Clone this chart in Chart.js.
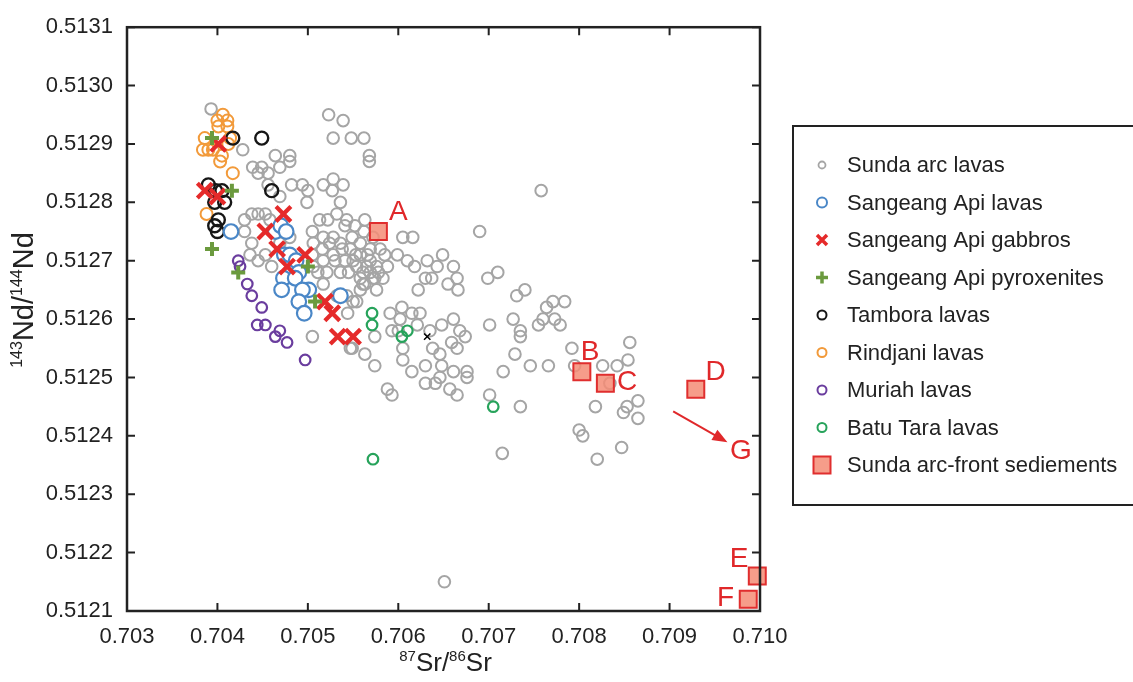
<!DOCTYPE html>
<html lang="en">
<head>
<meta charset="UTF-8">
<title>Sr-Nd isotopes</title>
<style>
  body { margin: 0; background: #fff; overflow: hidden; }
  .wrap { position: relative; width: 1133px; height: 682px; }
</style>
<script src="https://cdn.jsdelivr.net/npm/chart.js"></script>
</head>
<body>
<div class="wrap"><canvas id="myChart"></canvas></div>
<script>
// [87Sr/86Sr, 143Nd/144Nd]
const sundaArc = [
  [0.70393,0.51296],[0.70523,0.51295],[0.70539,0.51294],[0.70528,0.51291],[0.70548,0.51291],[0.70562,0.51291],[0.70568,0.51288],[0.70568,0.51287],
  [0.70428,0.51289],[0.70464,0.51288],[0.70469,0.51286],[0.7048,0.51288],[0.7048,0.51287],[0.70439,0.51286],[0.70449,0.51286],[0.70445,0.51285],
  [0.70456,0.51285],[0.70456,0.51283],[0.70482,0.51283],[0.70494,0.51283],[0.705,0.51282],[0.70499,0.5128],[0.70469,0.51281],
  [0.7043,0.51277],[0.70438,0.51278],[0.70445,0.51278],[0.70453,0.51278],[0.7043,0.51275],[0.70438,0.51273],[0.70458,0.51277],
  [0.70517,0.51283],[0.70528,0.51284],[0.70539,0.51283],[0.70527,0.51282],[0.70536,0.5128],
  [0.70513,0.51277],[0.70522,0.51277],[0.70532,0.51278],[0.70543,0.51277],[0.70552,0.51276],[0.70563,0.51277],
  [0.70505,0.51275],[0.70517,0.51274],[0.70528,0.51274],[0.70541,0.51276],[0.70549,0.51274],[0.70558,0.51273],
  [0.70506,0.51273],[0.70516,0.51272],[0.70524,0.51273],[0.70538,0.51272],[0.70547,0.51272],[0.70558,0.51271],[0.70569,0.51272],[0.7058,0.51272],
  [0.70569,0.5127],[0.70576,0.51269],[0.70565,0.51269],[0.70588,0.51269],[0.70599,0.51271],[0.70605,0.51274],[0.70616,0.51274],[0.7061,0.5127],
  [0.70618,0.51269],[0.70632,0.5127],[0.70643,0.51269],[0.70649,0.51271],[0.70661,0.51269],[0.7069,0.51275],
  [0.70517,0.5127],[0.7053,0.5127],[0.70541,0.5127],[0.70554,0.51269],[0.70506,0.51269],[0.70536,0.51268],
  [0.7063,0.51267],[0.70637,0.51267],[0.70665,0.51267],[0.70655,0.51266],[0.70666,0.51265],[0.70622,0.51265],[0.70699,0.51267],[0.7071,0.51268],
  [0.70731,0.51264],[0.7074,0.51265],[0.70764,0.51262],
  [0.70569,0.51268],[0.70558,0.51267],[0.70572,0.51267],[0.70583,0.51267],[0.70561,0.51266],[0.70576,0.51265],[0.70558,0.51265],[0.70554,0.51263],
  [0.70591,0.51261],[0.70604,0.51262],[0.70615,0.51261],[0.70624,0.51261],[0.70593,0.51258],[0.70602,0.5126],[0.706,0.51258],[0.70621,0.51259],
  [0.70635,0.51258],[0.70648,0.51259],[0.70661,0.5126],[0.70668,0.51258],[0.70674,0.51257],[0.70659,0.51256],[0.70638,0.51255],[0.70646,0.51254],[0.70665,0.51255],
  [0.70701,0.51259],[0.70727,0.5126],[0.70735,0.51258],[0.70735,0.51257],[0.70755,0.51259],[0.7076,0.5126],
  [0.70574,0.51252],[0.70605,0.51253],[0.70615,0.51251],[0.7063,0.51252],[0.70648,0.51252],[0.70646,0.5125],[0.70661,0.51251],[0.70676,0.51251],
  [0.70676,0.5125],[0.7063,0.51249],[0.70641,0.51249],[0.70657,0.51248],[0.70665,0.51247],[0.70701,0.51247],[0.70716,0.51251],[0.70729,0.51254],
  [0.70746,0.51252],[0.70588,0.51248],[0.70593,0.51247],[0.70547,0.51255],[0.70605,0.51255],
  [0.70784,0.51263],[0.70771,0.51263],[0.70773,0.5126],[0.70779,0.51259],[0.70792,0.51255],[0.70856,0.51256],[0.70854,0.51253],[0.70826,0.51252],
  [0.70842,0.51252],[0.70795,0.51252],[0.70834,0.51249],[0.70766,0.51252],
  [0.70735,0.51245],[0.70818,0.51245],[0.70853,0.51245],[0.70849,0.51244],[0.70865,0.51246],[0.70865,0.51243],[0.708,0.51241],[0.70804,0.5124],
  [0.70847,0.51238],[0.7082,0.51236],[0.70758,0.51282],[0.70715,0.51237],[0.70651,0.51215],
  [0.70453,0.51271],[0.70436,0.51271],[0.70445,0.5127],[0.7046,0.51269],[0.70536,0.51273],[0.70505,0.51271],[0.70528,0.51271],[0.7055,0.5127],
  [0.70561,0.51268],[0.70574,0.51267],[0.70563,0.51266],[0.70511,0.51268],[0.70517,0.51266],[0.70532,0.51264],[0.70543,0.51264],[0.7055,0.51263],
  [0.70544,0.51261],[0.70505,0.51257],[0.70549,0.51255],[0.70574,0.51257],[0.70563,0.51254],[0.70469,0.51273],[0.7048,0.51274],
  [0.70553,0.51271],[0.70562,0.51275],[0.70572,0.51274],[0.70585,0.51271],[0.70566,0.51271],[0.70578,0.51268],[0.70545,0.51268],[0.70521,0.51268]
];
const sangeangLavas = [
  [0.70415,0.51275],[0.70464,0.51275],[0.7047,0.51276],[0.70476,0.51275],[0.70474,0.51271],[0.7048,0.51271],[0.70487,0.5127],[0.7049,0.51268],
  [0.70473,0.51267],[0.70486,0.51267],[0.70501,0.51265],[0.70494,0.51265],[0.70471,0.51265],[0.7049,0.51263],[0.70496,0.51261],[0.70536,0.51264]
];
const sangeangGabbros = [
  [0.70401,0.5129],[0.70386,0.51282],[0.704,0.51281],[0.70473,0.51278],[0.70453,0.51275],[0.70466,0.51272],
  [0.70497,0.51271],[0.70477,0.51269],[0.70519,0.51263],[0.70527,0.51261],[0.70533,0.51257],[0.7055,0.51257]
];
const sangeangPyroxenites = [
  [0.70394,0.51291],[0.70416,0.51282],[0.70394,0.51272],[0.70423,0.51268],[0.70508,0.51263],[0.705,0.51269]
];
const tambora = [
  [0.70417,0.51291],[0.70449,0.51291],[0.7046,0.51282],[0.7039,0.51283],[0.70398,0.51282],[0.70405,0.51282],
  [0.70408,0.5128],[0.70397,0.5128],[0.70401,0.51277],[0.70397,0.51276],[0.704,0.51275]
];
const rindjani = [
  [0.704,0.51294],[0.70411,0.51294],[0.70411,0.51293],[0.70401,0.51293],[0.70406,0.51295],[0.70414,0.51291],[0.70386,0.51291],[0.70384,0.51289],
  [0.70395,0.51289],[0.70405,0.51288],[0.70412,0.5129],[0.70403,0.51287],[0.7039,0.51289],[0.70417,0.51285],[0.70388,0.51278]
];
const muriah = [
  [0.70423,0.5127],[0.70425,0.51269],[0.70433,0.51266],[0.70438,0.51264],[0.70449,0.51262],[0.70444,0.51259],
  [0.70453,0.51259],[0.70469,0.51258],[0.70464,0.51257],[0.70477,0.51256],[0.70497,0.51253]
];
const batuTara = [
  [0.70571,0.51261],[0.70571,0.51259],[0.7061,0.51258],[0.70604,0.51257],[0.70572,0.51236],[0.70705,0.51245]
];
const otherSample = [[0.70632,0.51257]];
const sediments = [
  [0.70578,0.51275],[0.70803,0.51251],[0.70829,0.51249],[0.70929,0.51248],[0.70997,0.51216],[0.70987,0.51212]
];
const xTicks = { min: 0.703, max: 0.710, step: 0.001 };
const yTicks = { min: 0.5121, max: 0.5131, step: 0.0001 };

// letter spots and the arrow to G (off the diagram)
const letterSpots = [
  ['A', 0.70600, 0.512785], ['B', 0.70812, 0.512545], ['C', 0.70853, 0.512494], ['D', 0.70951, 0.512511],
  ['E', 0.70977, 0.512191], ['F', 0.70962, 0.512124], ['G', 0.70979, 0.512376]
];
const arrowG = { from: [0.70904, 0.512442], to: [0.70964, 0.512389] };

const FONT = 'Arial, "Liberation Sans", sans-serif';
Chart.defaults.font.family = FONT;

const pts = arr => arr.map(p => ({ x: p[0], y: p[1] }));

const series = [
  { label: 'Sunda arc lavas', data: sundaArc, style: 'circle', color: '#a5a5a5', fill: 'rgba(0,0,0,0)', r: 5.8, lw: 2, order: 9, lr: 3.5, llw: 1.8 },
  { label: 'Sangeang Api lavas', data: sangeangLavas, style: 'circle', color: '#4a87c7', fill: '#ffffff', r: 7.3, lw: 2.2, order: 6, lr: 5, llw: 2 },
  { label: 'Sangeang Api gabbros', data: sangeangGabbros, style: 'crossRot', color: '#e52a2a', fill: '#e52a2a', r: 10.5, lw: 4.2, order: 3, lr: 5, llw: 3.5 },
  { label: 'Sangeang Api pyroxenites', data: sangeangPyroxenites, style: 'cross', color: '#6b9a3e', fill: '#6b9a3e', r: 7, lw: 4, order: 2, lr: 6, llw: 3.5 },
  { label: 'Tambora lavas', data: tambora, style: 'circle', color: '#161616', fill: 'rgba(0,0,0,0)', r: 6.5, lw: 2.4, order: 7, lr: 4.5, llw: 2 },
  { label: 'Rindjani lavas', data: rindjani, style: 'circle', color: '#f29a3a', fill: 'rgba(0,0,0,0)', r: 6, lw: 2, order: 8, lr: 4.5, llw: 2 },
  { label: 'Muriah lavas', data: muriah, style: 'circle', color: '#6a3d9e', fill: 'rgba(0,0,0,0)', r: 5.3, lw: 2.2, order: 5, lr: 4.5, llw: 2 },
  { label: 'Batu Tara lavas', data: batuTara, style: 'circle', color: '#27a35b', fill: 'rgba(0,0,0,0)', r: 5.3, lw: 2.2, order: 4, lr: 4.5, llw: 2 },
  { label: 'Sunda arc-front sediements', data: sediments, style: 'rect', color: '#e02e2e', fill: 'rgba(244,140,118,0.85)', r: 12, lw: 2, order: 0, lr: 8.5, llw: 2 }
];

const datasets = series.map(s => ({
  label: s.label,
  data: pts(s.data),
  pointStyle: s.style,
  pointRadius: s.r,
  pointBorderWidth: s.lw,
  pointBorderColor: s.color,
  pointBackgroundColor: s.fill,
  order: s.order,
  clip: false
}));
datasets.push({
  label: 'other',
  data: pts(otherSample),
  pointStyle: 'crossRot',
  pointRadius: 4.5,
  pointBorderWidth: 1.5,
  pointBorderColor: '#000',
  order: 1
});

function mark(ctx, style, x, y, r, color, fill, lw) {
  ctx.save();
  ctx.strokeStyle = color;
  ctx.fillStyle = fill;
  ctx.lineWidth = lw;
  ctx.beginPath();
  if (style === 'circle') {
    ctx.arc(x, y, r, 0, Math.PI * 2);
  } else if (style === 'crossRot') {
    ctx.moveTo(x - r, y - r); ctx.lineTo(x + r, y + r);
    ctx.moveTo(x + r, y - r); ctx.lineTo(x - r, y + r);
  } else if (style === 'cross') {
    ctx.moveTo(x - r, y); ctx.lineTo(x + r, y);
    ctx.moveTo(x, y - r); ctx.lineTo(x, y + r);
  } else if (style === 'rect') {
    ctx.rect(x - r, y - r, 2 * r, 2 * r);
    ctx.fill();
  }
  ctx.stroke();
  ctx.restore();
}

const decor = {
  id: 'decor',
  afterDatasetsDraw(chart) {
    const { ctx, chartArea: a, scales: { x, y } } = chart;
    ctx.save();
    // frame with inward ticks
    ctx.strokeStyle = '#222';
    ctx.lineWidth = 2.5;
    ctx.strokeRect(a.left, a.top, a.right - a.left, a.bottom - a.top);
    ctx.lineWidth = 2;
    ctx.beginPath();
    x.ticks.forEach(t => {
      const px = x.getPixelForValue(t.value);
      ctx.moveTo(px, a.bottom); ctx.lineTo(px, a.bottom - 8);
      ctx.moveTo(px, a.top); ctx.lineTo(px, a.top + 8);
    });
    y.ticks.forEach(t => {
      const py = y.getPixelForValue(t.value);
      ctx.moveTo(a.left, py); ctx.lineTo(a.left + 8, py);
      ctx.moveTo(a.right, py); ctx.lineTo(a.right - 8, py);
    });
    ctx.stroke();

    // sediment letters
    ctx.fillStyle = '#e0282a';
    ctx.font = '28px ' + FONT;
    ctx.textAlign = 'center';
    ctx.textBaseline = 'middle';
    letterSpots.forEach(l => {
      ctx.fillText(l[0], x.getPixelForValue(l[1]), y.getPixelForValue(l[2]) + 1);
    });

    // arrow toward G
    const x0 = x.getPixelForValue(arrowG.from[0]), y0 = y.getPixelForValue(arrowG.from[1]);
    const x1 = x.getPixelForValue(arrowG.to[0]), y1 = y.getPixelForValue(arrowG.to[1]);
    const ang = Math.atan2(y1 - y0, x1 - x0);
    ctx.strokeStyle = '#e0282a';
    ctx.lineWidth = 2;
    ctx.beginPath();
    ctx.moveTo(x0, y0);
    ctx.lineTo(x1 - 10 * Math.cos(ang), y1 - 10 * Math.sin(ang));
    ctx.stroke();
    ctx.beginPath();
    ctx.moveTo(x1, y1);
    ctx.lineTo(x1 - 15 * Math.cos(ang) + 6 * Math.sin(ang), y1 - 15 * Math.sin(ang) - 6 * Math.cos(ang));
    ctx.lineTo(x1 - 15 * Math.cos(ang) - 6 * Math.sin(ang), y1 - 15 * Math.sin(ang) + 6 * Math.cos(ang));
    ctx.closePath();
    ctx.fill();

    // axis titles with superscripts
    ctx.fillStyle = '#222';
    ctx.textAlign = 'left';
    ctx.textBaseline = 'alphabetic';
    function titled(parts, big, small) {
      let w = 0;
      parts.forEach(p => {
        ctx.font = (p[1] ? small : big) + 'px ' + FONT;
        w += ctx.measureText(p[0]).width;
      });
      return w;
    }
    function drawParts(parts, big, small, sx, base) {
      let cx = sx;
      parts.forEach(p => {
        ctx.font = (p[1] ? small : big) + 'px ' + FONT;
        ctx.fillText(p[0], cx, p[1] ? base - big * 0.38 : base);
        cx += ctx.measureText(p[0]).width;
      });
    }
    const xt = [['87', 1], ['Sr/', 0], ['86', 1], ['Sr', 0]];
    const xw = titled(xt, 26, 15);
    drawParts(xt, 26, 15, (a.left + a.right) / 2 - xw / 2 + 2, 671);

    const yt = [['143', 1], ['Nd/', 0], ['144', 1], ['Nd', 0]];
    const yw = titled(yt, 29, 16);
    ctx.save();
    ctx.translate(33, 300);
    ctx.rotate(-Math.PI / 2);
    drawParts(yt, 29, 16, -yw / 2, 0);
    ctx.restore();

    // legend box
    ctx.strokeStyle = '#222';
    ctx.lineWidth = 2;
    ctx.strokeRect(793, 126, 360, 379);
    ctx.font = '22px ' + FONT;
    ctx.fillStyle = '#222';
    ctx.textBaseline = 'middle';
    series.forEach((s, i) => {
      const ly = 165 + i * 37.5;
      mark(ctx, s.style, 822, ly, s.lr, s.color, s.style === 'rect' ? 'rgba(244,140,118,0.85)' : 'rgba(0,0,0,0)', s.llw);
      ctx.fillText(s.label, 847, ly + 1);
    });
    ctx.restore();
  }
};

new Chart(document.getElementById('myChart'), {
  type: 'scatter',
  data: { datasets: datasets },
  options: {
    responsive: true,
    maintainAspectRatio: false,
    animation: false,
    events: [],
    layout: { padding: { left: 0, top: 20, right: 373, bottom: 0 } },
    plugins: { legend: { display: false }, tooltip: { enabled: false } },
    scales: {
      x: {
        type: 'linear',
        min: xTicks.min,
        max: xTicks.max,
        afterFit: s => { s.height = 71; },
        grid: { display: false, drawTicks: false },
        border: { display: false },
        ticks: {
          stepSize: xTicks.step,
          padding: 13,
          color: '#222',
          font: { size: 22 },
          maxRotation: 0,
          autoSkip: false,
          callback: v => v.toFixed(3)
        }
      },
      y: {
        type: 'linear',
        min: yTicks.min,
        max: yTicks.max,
        afterFit: s => { s.width = 127; },
        grid: { display: false, drawTicks: false },
        border: { display: false },
        ticks: {
          stepSize: yTicks.step,
          padding: 14,
          color: '#222',
          font: { size: 22 },
          autoSkip: false,
          callback: v => v.toFixed(4)
        }
      }
    }
  },
  plugins: [decor]
});
</script>
</body>
</html>
